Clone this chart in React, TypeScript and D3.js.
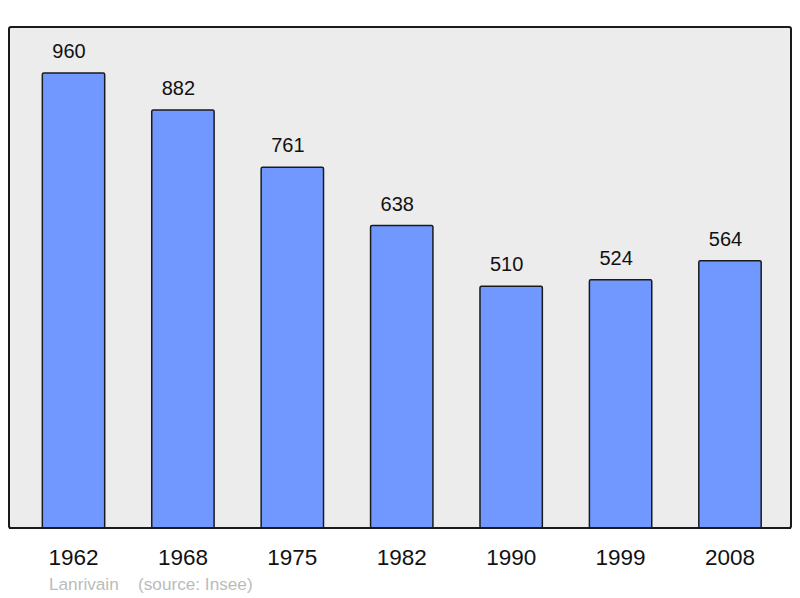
import { FC, useEffect, useRef } from 'react';
import * as d3 from 'd3';

const years = ['1962', '1968', '1975', '1982', '1990', '1999', '2008'];
const population = [960, 882, 761, 638, 510, 524, 564];
const town = 'Lanrivain';
const source = '(source: Insee)';

const App: FC = () => {
  const svgRef = useRef<SVGSVGElement>(null);

  useEffect(() => {
    if (!svgRef.current) return;
    const width = 800;
    const height = 598;
    const panel = { left: 9, top: 27, right: 791, bottom: 528 };
    const font = 'Liberation Sans, Arial, sans-serif';

    const svg = d3.select(svgRef.current).attr('width', width).attr('height', height);
    svg.selectAll('*').remove();

    const xScale = d3
      .scaleBand<string>()
      .domain(years)
      .range([9.5, 794])
      .paddingInner(0.43)
      .paddingOuter(0.3);
    const yScale = d3.scaleLinear().domain([0, 1057]).range([panel.bottom, panel.top]);

    svg
      .append('rect')
      .attr('x', panel.left)
      .attr('y', panel.top)
      .attr('width', panel.right - panel.left)
      .attr('height', panel.bottom - panel.top)
      .attr('rx', 2)
      .attr('fill', '#ececec')
      .attr('stroke', '#1a1a1a')
      .attr('stroke-width', 2);

    const data = years.map((year, i) => ({ year, value: population[i] }));

    svg
      .selectAll('.bar')
      .data(data)
      .join('rect')
      .attr('class', 'bar')
      .attr('x', (d) => xScale(d.year)!)
      .attr('y', (d) => yScale(d.value))
      .attr('width', xScale.bandwidth())
      .attr('height', (d) => panel.bottom - yScale(d.value))
      .attr('rx', 1.5)
      .attr('fill', '#7098ff')
      .attr('stroke', '#1a1a1a')
      .attr('stroke-width', 1.5);

    svg
      .selectAll('.value')
      .data(data)
      .join('text')
      .attr('class', 'value')
      .attr('x', (d) => xScale(d.year)! + xScale.bandwidth() / 2 - 4.5)
      .attr('y', (d) => yScale(d.value) - 15)
      .attr('text-anchor', 'middle')
      .attr('font-family', font)
      .attr('font-size', 20)
      .attr('fill', '#111')
      .text((d) => d.value);

    // frame bottom line drawn over the bar strokes
    svg
      .append('line')
      .attr('x1', panel.left)
      .attr('x2', panel.right)
      .attr('y1', panel.bottom)
      .attr('y2', panel.bottom)
      .attr('stroke', '#1a1a1a')
      .attr('stroke-width', 2);

    svg
      .selectAll('.year')
      .data(years)
      .join('text')
      .attr('class', 'year')
      .attr('x', (d) => xScale(d)! + xScale.bandwidth() / 2)
      .attr('y', 565)
      .attr('text-anchor', 'middle')
      .attr('font-family', font)
      .attr('font-size', 22.5)
      .attr('fill', '#111')
      .text((d) => d);

    svg
      .append('text')
      .attr('x', 49)
      .attr('y', 590)
      .attr('font-family', font)
      .attr('font-size', 17.2)
      .attr('fill', '#bbbbbb')
      .text(town);
    svg
      .append('text')
      .attr('x', 138)
      .attr('y', 590)
      .attr('font-family', font)
      .attr('font-size', 17.2)
      .attr('fill', '#bbbbbb')
      .text(source);
  }, []);

  return (
    <svg
      ref={svgRef}
      style={{ position: 'absolute', left: 0, top: 0, display: 'block', background: '#fff' }}
    />
  );
};

export default App;
